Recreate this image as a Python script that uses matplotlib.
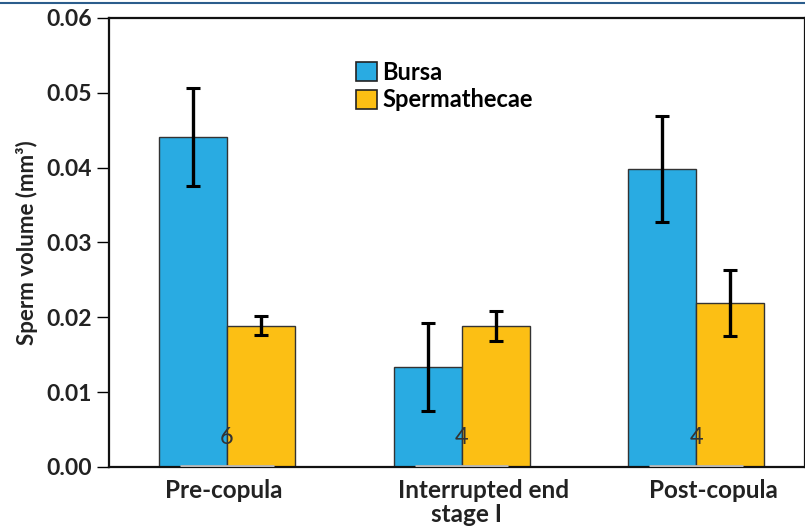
import numpy as np
import matplotlib.pyplot as plt
from matplotlib.lines import Line2D
from matplotlib.patches import Patch
from matplotlib.transforms import ScaledTranslation

plt.rcParams['font.family'] = ['Lato', 'DejaVu Sans']

groups = ['Pre-copula', 'Interrupted end', 'Post-copula']
bursa = [0.0441, 0.0134, 0.0398]
bursa_err = [0.0066, 0.0059, 0.0071]
sperm = [0.0189, 0.0189, 0.0219]
sperm_err = [0.0013, 0.0020, 0.0044]
n_labels = ['6', '4', '4']

blue = '#29ABE2'
yellow = '#FCBF14'

fig = plt.figure(figsize=(8.05, 5.30), dpi=100)
ax = fig.add_axes([0.1354, 0.1189, 0.8646, 0.8472])

x = np.arange(len(groups))
w = 0.29
err_kw = dict(ecolor='black', elinewidth=2.4, capsize=5, capthick=2.2)
ax.bar(x - w / 2, bursa, w, yerr=bursa_err, color=blue, edgecolor='#333333',
       linewidth=1, error_kw=err_kw, zorder=2)
ax.bar(x + w / 2, sperm, w, yerr=sperm_err, color=yellow, edgecolor='#333333',
       linewidth=1, error_kw=err_kw, zorder=2)

# thin gray marks on the baseline under each group
ax.hlines([0.0001] * len(x), x - 0.2, x + 0.2, colors='#b8b8b8', linewidth=2, zorder=3)

for xi, n in zip(x, n_labels):
    ax.text(xi, 0.0040, n, ha='center', va='center', fontsize=17, color='#333333', zorder=4)

ax.set_xlim(-0.503, 2.464)
ax.set_ylim(0, 0.06)
ax.set_yticks(np.arange(0, 0.0601, 0.01))
ax.set_yticklabels(['%.2f' % v for v in np.arange(0, 0.0601, 0.01)],
                   fontsize=16.5, fontweight='bold', color='#222222')
ax.set_xticks(x)
ax.set_xticklabels(groups, fontsize=17.5, fontweight='bold', color='#222222')
ax.tick_params(axis='x', length=0, pad=9)
ax.tick_params(axis='y', length=8.5, width=1, pad=4)
ax.set_ylabel('Sperm volume (mm³)', fontsize=16, fontweight='bold', color='#222222', labelpad=6)

# labels in the original sit a little off the group centres
shifts = [-3, 22, 17]
for lab, dx in zip(ax.get_xticklabels(), shifts):
    lab.set_transform(lab.get_transform() + ScaledTranslation(dx / 100, 0, fig.dpi_scale_trans))
ax.text(1.02, -0.0064, 'stage I', ha='center', va='center', fontsize=17.5,
        fontweight='bold', color='#222222', clip_on=False)

for s in ax.spines.values():
    s.set_linewidth(1.6)
    s.set_color('#111111')

handles = [Patch(facecolor=blue, edgecolor='#222222', linewidth=1.2, label='Bursa'),
           Patch(facecolor=yellow, edgecolor='#222222', linewidth=1.2, label='Spermathecae')]
leg = ax.legend(handles=handles, loc='upper left', bbox_to_anchor=(0.325, 0.952),
                frameon=False, prop={'size': 17, 'weight': 'bold'},
                handlelength=0.85, handleheight=0.85, handletextpad=0.25, labelspacing=0.2)

# blue rule at the very top of the figure
fig.add_artist(Line2D([0, 1], [0.9945, 0.9945], transform=fig.transFigure,
                      color='#2b5d8c', linewidth=1.5))

fig.savefig('out.png', dpi=100)
